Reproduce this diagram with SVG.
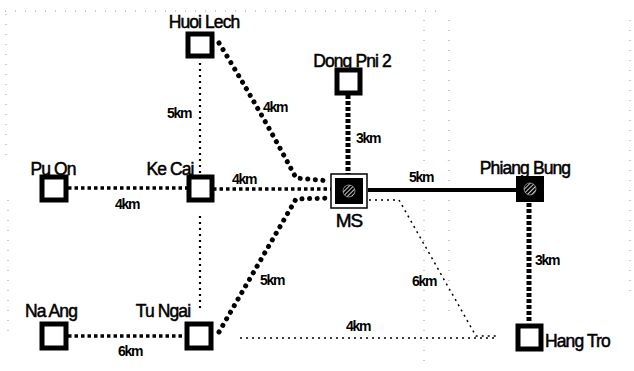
<svg xmlns="http://www.w3.org/2000/svg" width="634" height="371" viewBox="0 0 634 371">
<style>
.lbl{font-family:"Liberation Sans",Arial,sans-serif;font-size:17.5px;fill:#000;stroke:#000;stroke-width:0.5;letter-spacing:-0.9px}
.km{font-family:"Liberation Sans",Arial,sans-serif;font-size:14px;font-weight:bold;fill:#000;letter-spacing:-1.3px}
.sq{fill:#fff;stroke:#000;stroke-width:5}
.thin{fill:none;stroke:#000;stroke-width:2.2;stroke-dasharray:2 4}
.faint{fill:none;stroke:#555;stroke-width:1;stroke-dasharray:1 9;opacity:0.6}
.med{fill:none;stroke:#000;stroke-width:3.5;stroke-dasharray:3.5 3}
.big{fill:none;stroke:#000;stroke-width:5;stroke-linecap:round;stroke-dasharray:0.1 7.5}
.dash{fill:none;stroke:#000;stroke-width:5;stroke-dasharray:4 2}
.solid{fill:none;stroke:#000;stroke-width:4}
</style>
<defs>
<pattern id="hatch" width="3" height="3" patternUnits="userSpaceOnUse" patternTransform="rotate(45)">
<rect width="3" height="3" fill="#000"/>
<line x1="0" y1="0" x2="0" y2="3" stroke="#fff" stroke-width="1.6"/>
</pattern>
</defs>
<rect width="634" height="371" fill="#fff"/>
<g id="frame">
<path class="faint" d="M5 11 H440 M6 14 V160 M8 200 V340 M424 20 V370 M449 20 V320 M630 20 V300"/>
</g>
<g id="connectors">
<path class="thin" d="M200 63 V175"/>
<path class="thin" d="M200 216 V312"/>
<path class="big" d="M219 43 Q260 110 296 178 L330 181"/>
<path class="med" d="M68 188 H187"/>
<path class="med" d="M213 189 H332"/>
<path class="big" d="M219 332 L296 199 L330 198"/>
<path class="med" d="M68 336 H185"/>
<path class="dash" d="M348 95 V175"/>
<path class="solid" d="M368 190 H516"/>
<path class="dash" d="M529 203 V323"/>
<path class="thin" style="stroke-width:1.5" d="M369 200 H399 L476 336 H497"/>
<path class="thin" style="stroke-width:1.5" d="M240 338 H497"/>
<text class="km" x="179" y="118" text-anchor="middle">5km</text>
<text class="km" x="275" y="112" text-anchor="middle">4km</text>
<text class="km" x="127" y="209" text-anchor="middle">4km</text>
<text class="km" x="244" y="184" text-anchor="middle">4km</text>
<text class="km" x="368" y="143" text-anchor="middle">3km</text>
<text class="km" x="421" y="182" text-anchor="middle">5km</text>
<text class="km" x="547" y="265" text-anchor="middle">3km</text>
<text class="km" x="424" y="286" text-anchor="middle">6km</text>
<text class="km" x="272" y="285" text-anchor="middle">5km</text>
<text class="km" x="358" y="331" text-anchor="middle">4km</text>
<text class="km" x="130" y="356" text-anchor="middle">6km</text>
</g>
<g id="huoi-lech">
<rect class="sq" x="188" y="34" width="24" height="22"/>
<text class="lbl" x="204" y="28" text-anchor="middle">Huoi Lech</text>
</g>
<g id="dong-pni-2">
<rect class="sq" x="337" y="70" width="23" height="23"/>
<text class="lbl" x="352" y="67" text-anchor="middle">Dong Pni 2</text>
</g>
<g id="pu-on">
<rect class="sq" x="42" y="177" width="24" height="23"/>
<text class="lbl" x="53" y="175" text-anchor="middle">Pu On</text>
</g>
<g id="ke-cai">
<rect class="sq" x="189" y="177" width="23" height="23"/>
<text class="lbl" x="170" y="175" text-anchor="middle">Ke Cai</text>
</g>
<g id="ms">
<rect x="331" y="174" width="36" height="34" fill="#fff" stroke="#000" stroke-width="1.5"/>
<rect x="335" y="178" width="28" height="26" fill="#000"/>
<circle cx="349" cy="191" r="6" fill="url(#hatch)" stroke="#ccc" stroke-width="0.6"/>
<text class="lbl" x="349" y="227" text-anchor="middle" style="font-size:19px">MS</text>
</g>
<g id="phiang-bung">
<rect x="516" y="176" width="28" height="26" fill="#000"/>
<circle cx="530" cy="189" r="6" fill="url(#hatch)" stroke="#ccc" stroke-width="0.6"/>
<text class="lbl" x="525" y="174" text-anchor="middle">Phiang Bung</text>
</g>
<g id="na-ang">
<rect class="sq" x="42" y="324" width="24" height="24"/>
<text class="lbl" x="51" y="317" text-anchor="middle">Na Ang</text>
</g>
<g id="tu-ngai">
<rect class="sq" x="187" y="324" width="24" height="24"/>
<text class="lbl" x="163" y="317" text-anchor="middle">Tu Ngai</text>
</g>
<g id="hang-tro">
<rect class="sq" x="518" y="326" width="23" height="23"/>
<text class="lbl" x="545" y="347">Hang Tro</text>
</g>
</svg>
